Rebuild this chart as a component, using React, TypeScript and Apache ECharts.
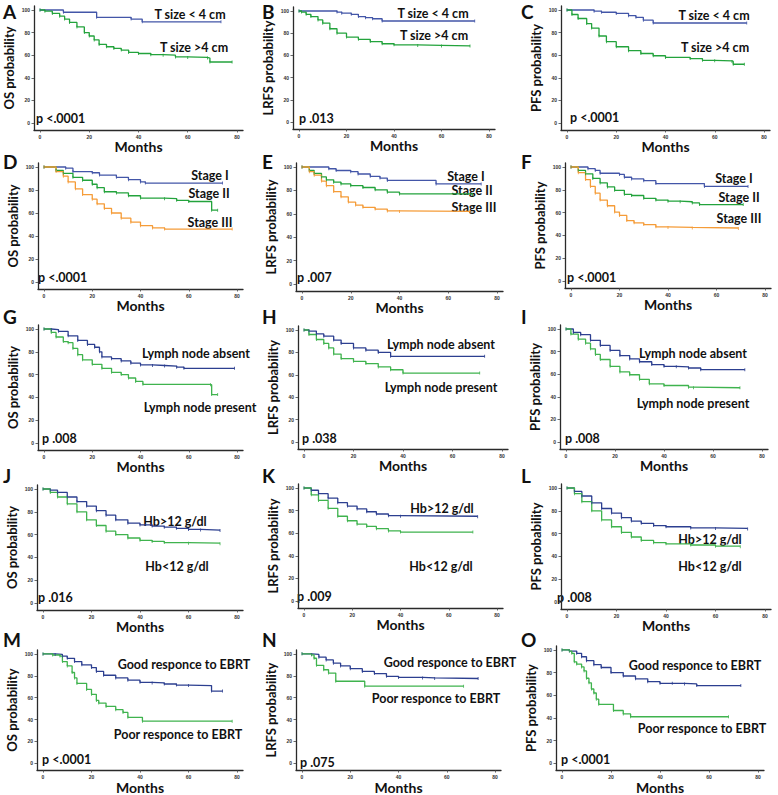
import React, { useEffect, useRef } from "react";
import * as echarts from "echarts";

// ---------- tick labels ----------
const xTicks = [0, 20, 40, 60, 80];
const yTicks = [0, 20, 40, 60, 80, 100];

// ---------- series data: [month, survival %] ----------
const A_small = [[0,100],[9.5,98],[23,93.5],[37,92],[41.5,89.5],[73.5,89.5]];
const A_large = [[0,100],[2,99],[5,97],[8,94.5],[10,92],[12,89],[15,85],[18,80],[20,77],[22,73.5],[24,69.5],[27,67.5],[30,66],[33,64.5],[36,62.5],[40,61.5],[45,60.5],[50,60],[55,58.5],[60,58],[68,57.5],[69,54],[78,54]];
const B_small = [[0,100],[16,99],[18,98],[22,97],[25,95],[28,94],[31,93],[35,91],[74,91]];
const B_large = [[0,100],[1,99],[3,97],[5,95],[8,92],[10,89],[13,84],[16,80],[20,76.5],[25,74.5],[30,72.5],[35,70.5],[40,69.5],[50,69],[60,68.5],[72,68.5]];
const C_small = [[0,100],[11,99],[14,98],[20,97],[25,95],[28,93.5],[31,91],[35,88.5],[73,88.5]];
const C_large = [[0,100],[2,96],[4.5,92.5],[8,88],[10,84],[13,77],[16,72],[20,67.5],[25,64],[30,61.5],[35,59.5],[40,58],[50,57],[55,55.5],[60,55],[67,54.5],[67.5,52],[72,52]];

const D_st1 = [[0,100],[9,99],[12,96],[20,95],[23,93],[30,91],[35,89],[40,87],[42,86],[74,86]];
const D_st2 = [[0,100],[5,97],[8,94.5],[12,91],[16,88.5],[20,85],[22,82],[25,78.5],[30,77.5],[35,75],[40,73],[50,72.5],[55,71],[60,70],[69.5,62.5],[72,62.5]];
const D_st3 = [[0,100],[5,96],[8,92],[10,87],[13,81],[16,76],[20,72],[22,68],[25,64],[28,60],[32,55.5],[36,52],[40,49],[45,47],[50,46],[78,46]];
const E_st1 = [[0,100],[11,98.5],[14,97],[20,96],[23,94],[28,92],[32,90.5],[35,88.5],[55,85.5],[73.5,85.5]];
const E_st2 = [[0,100],[3,97],[5,94.5],[8,91.5],[10,89],[13,87],[16,85.5],[20,84],[25,82.5],[30,80.5],[35,78.5],[40,77],[70,76.5]];
const E_st3 = [[0,100],[3,96],[5,93],[8,88],[10,84],[13,79],[16,74.5],[19,70],[22,67.5],[25,65.5],[30,64],[35,62.5],[40,62],[69,62]];
const F_st1 = [[0,100],[7,98.5],[10,97],[12,94.5],[20,93.5],[22,91],[25,89.5],[30,88],[35,85.5],[55,83],[73,83]];
const F_st2 = [[0,100],[3,97],[6,94],[9,90],[12,86],[15,82.5],[18,79.5],[22,76],[25,75],[30,72.5],[35,71],[40,70],[45,69.5],[50,68.5],[53,67],[71,67]];
const F_st3 = [[0,100],[3,95],[6,89],[8,83],[10,77],[12,71],[15,66],[18,60.5],[20,57.5],[23,53],[26,51],[30,49.5],[35,47.5],[40,47],[50,46.5],[69,46]];

const G_absent = [[0,100],[3,99.5],[6,98],[10,94],[14,90],[18,86.5],[21,84],[23,80],[24,75.5],[28,74],[32,72],[36,70],[40,68.5],[45,68],[50,67.5],[55,66.5],[58,65.5],[79,65.5]];
const G_present = [[0,100],[3,97],[5,93],[8,89],[10,88],[12,83],[14,77.5],[16,73],[20,69],[24,65.5],[28,62],[32,60],[35,57],[38,54],[41,51.5],[69,51],[69.5,42.5],[72,42.5]];
const H_absent = [[0,100],[2,99],[5,96.5],[8,94.5],[12,91],[15,88],[20,84],[25,82],[30,80],[35,76.5],[73,76.5]];
const H_present = [[0,100],[2,96],[5,91.5],[8,88],[10,84],[12,78.5],[15,74.5],[20,72],[25,70],[30,67],[35,64.5],[40,61.5],[71,61.5]];
const I_absent = [[0,100],[3,97],[6,95],[10,90],[14,85.5],[18,81],[22,76.5],[26,73.5],[30,71],[35,68.5],[40,67],[45,66.5],[50,65.5],[55,64],[73,64]];
const I_present = [[0,100],[2,95.5],[5,91],[8,87.5],[10,82.5],[12,77.5],[14,73],[18,67],[22,62],[26,59.5],[30,55.5],[34,51.5],[40,50],[50,48.5],[52,48],[71,48]];

const J_hbHigh = [[0,100],[3,99],[6,97],[10,93],[14,89],[18,85],[22,81],[26,77],[30,73],[35,70],[40,68.5],[45,67.5],[50,66.5],[55,65.5],[60,64.5],[65,64],[73,63.5]];
const J_hbLow = [[0,100],[3,97],[6,93],[10,87],[14,80],[18,73],[22,68],[26,63],[30,60],[35,57],[40,55],[45,54],[50,53],[60,52.5],[73,52]];
const K_hbHigh = [[0,100],[3,98],[6,95],[10,91],[14,87],[18,84],[22,81.5],[26,79],[30,77],[35,75.5],[40,75],[72,74.5]];
const K_hbLow = [[0,100],[3,94],[6,89],[10,82],[14,75],[18,71],[22,68],[26,66],[30,64],[35,62],[40,61],[70,61]];
const L_hbHigh = [[0,100],[3,97],[6,93],[10,87],[14,82],[18,78],[22,74],[26,71],[30,69],[35,67],[40,66],[50,65],[60,64.5],[73,64]];
const L_hbLow = [[0,100],[3,95],[6,88],[10,80],[14,72],[18,66],[22,61],[26,57],[30,54],[35,52],[40,51],[50,50],[60,49],[70,48.5]];

const M_good = [[0,100],[5,99.5],[8,98],[10,96],[13,93],[16,90],[20,87.5],[22,84],[25,80.5],[30,78],[35,76],[40,74],[45,73.5],[50,72.5],[55,71.5],[60,71],[69.5,66],[74,66]];
const M_poor = [[0,100],[4,99],[7,98],[8,93],[10,89],[12,83],[13,78],[14,73],[18,67.5],[20,63],[22,57.5],[23,55],[26,52],[30,49],[33,46.5],[35,42],[41,38.5],[78,38.5]];
const N_good = [[0,100],[4,99.5],[7,97],[10,94.5],[13,91.5],[16,89],[20,86.5],[25,84],[30,82],[35,79.5],[40,78.5],[50,78],[55,77.5],[73,77.5]];
const N_poor = [[0,100],[4,99],[5,96],[6,89.5],[9,85.5],[11,82.5],[14,75],[26,70.5],[67,70.5]];
const O_good = [[0,100],[3,99],[6,97],[8,94],[10,90.5],[13,87],[16,84.5],[20,80],[25,77],[30,74.5],[35,72],[40,70.5],[45,70.5],[50,70],[55,68.5],[73,68.5]];
const O_poor = [[0,100],[3,99],[4,97],[5,89.5],[6,87.5],[8,85],[9,81.5],[10,75],[11,71],[12,65.5],[13,62],[14,56.5],[15,52],[21,46.5],[25,43.5],[28,41],[68,41]];

// ---------- texts ----------
const pValues = ["p <.0001","p .013","p <.0001","p <.0001","p .007","p <.0001","p .008","p .038","p .008","p .016","p .009","p .008","p <.0001","p .075","p <.0001"];
const yNames = ["OS probability","LRFS probability","PFS probability"];
const panelLetters = ["A","B","C","D","E","F","G","H","I","J","K","L","M","N","O"];

const BLUE_LIGHT = "#4356a8";
const BLUE_DARK = "#2c3f90";
const GREEN = "#23a33c";
const GREEN_LIGHT = "#3fb34e";
const ORANGE = "#f59c38";

// layout: [x of month 0, x of month 80, y of 100%, y of 0%]
const boxes = [
  [40,237,10,123],[299,489,11,122],[567,764,10,123],
  [44,237,167,282],[302,497,167,284],[571,765,167,281],
  [44,237,329,443],[304,502,330,442],[566,762,329,442],
  [43,237,489,603],[304,497,488,601],[567,765,488,602],
  [43,237,654,766],[302,495,654,767],[562,758,650,764],
];
const letterPos = [
  [3,2],[262,2],[521,2],[3,152],[262,152],[521,152],[3,307],[262,307],[521,307],
  [3,466],[262,466],[521,466],[3,630],[262,630],[521,630],
];

const panelSeries = [
  [[A_small,BLUE_LIGHT],[A_large,GREEN]],
  [[B_small,BLUE_LIGHT],[B_large,GREEN]],
  [[C_small,BLUE_LIGHT],[C_large,GREEN]],
  [[D_st1,BLUE_LIGHT],[D_st2,GREEN],[D_st3,ORANGE]],
  [[E_st1,BLUE_LIGHT],[E_st2,GREEN],[E_st3,ORANGE]],
  [[F_st1,BLUE_LIGHT],[F_st2,GREEN],[F_st3,ORANGE]],
  [[G_absent,BLUE_DARK],[G_present,GREEN_LIGHT]],
  [[H_absent,BLUE_DARK],[H_present,GREEN_LIGHT]],
  [[I_absent,BLUE_DARK],[I_present,GREEN_LIGHT]],
  [[J_hbHigh,BLUE_DARK],[J_hbLow,GREEN_LIGHT]],
  [[K_hbHigh,BLUE_DARK],[K_hbLow,GREEN_LIGHT]],
  [[L_hbHigh,BLUE_DARK],[L_hbLow,GREEN_LIGHT]],
  [[M_good,BLUE_DARK],[M_poor,GREEN_LIGHT]],
  [[N_good,BLUE_DARK],[N_poor,GREEN_LIGHT]],
  [[O_good,BLUE_DARK],[O_poor,GREEN_LIGHT]],
];

// curve labels: [text, centerX, centerY]
const curveLabels: [string, number, number][][] = [
  [["T size < 4 cm",190,14],["T size >4 cm",194,47]],
  [["T size < 4 cm",433,13],["T size >4 cm",434,35]],
  [["T size < 4 cm",714,15],["T size >4 cm",715,47]],
  [["Stage I",210,175],["Stage II",209,193],["Stage III",210,222]],
  [["Stage I",466,176],["Stage II",472,190],["Stage III",474,207]],
  [["Stage I",734,178],["Stage II",739,197],["Stage III",739,218]],
  [["Lymph node absent",196,353],["Lymph node present",200,407]],
  [["Lymph node absent",441,344],["Lymph node present",441,387]],
  [["Lymph node absent",693,353],["Lymph node present",693,403]],
  [["Hb>12 g/dl",175,521],["Hb<12 g/dl",177,566]],
  [["Hb>12 g/dl",442,508],["Hb<12 g/dl",441,566]],
  [["Hb>12 g/dl",710,539],["Hb<12 g/dl",710,566]],
  [["Good responce to EBRT",184,664],["Poor responce to EBRT",178,734]],
  [["Good responce to EBRT",450,662],["Poor responce to EBRT",436,698]],
  [["Good responce to EBRT",695,665],["Poor responce to EBRT",702,728]],
];
const pPos = [
  [36,118],[299,118],[570,117],[38,277],[297,277],[567,277],[42,438],[302,438],[565,438],
  [38,597],[297,596],[557,597],[42,759],[300,762],[561,759],
];

const FONT = "Lato, 'Open Sans', sans-serif";

function buildOption() {
  const grid: any[] = [], xAxis: any[] = [], yAxis: any[] = [], series: any[] = [], graphic: any[] = [];
  boxes.forEach((b, i) => {
    const [x0, x80, y100, y0] = b;
    const sx = (x80 - x0) / 80;
    const sy = (y0 - y100) / 100;
    const gl = x0 - 6, gr = x80 + 6, gt = y100 - 4, gb = y0 + 7;
    grid.push({ left: gl, top: gt, width: gr - gl, height: gb - gt, containLabel: false });
    const axisLine = { show: true, onZero: false, lineStyle: { color: "#2a2a2a", width: 1.3 } };
    const tickLabel = { fontSize: 5, color: "#333", fontWeight: "bold", fontFamily: "Liberation Sans, Arial, sans-serif" };
    xAxis.push({
      gridIndex: i, type: "value", min: -6 / sx, max: 80 + 6 / sx,
      axisLine,
      axisTick: { show: true, customValues: xTicks, length: 2.5, lineStyle: { color: "#444", width: 0.8 } },
      axisLabel: { show: true, customValues: xTicks, margin: 4, ...tickLabel },
      splitLine: { show: false },
      name: "Months", nameLocation: "middle", nameGap: 9,
      nameTextStyle: { fontFamily: FONT, fontWeight: "bold", fontSize: 14, color: "#111", verticalAlign: "top" },
    });
    yAxis.push({
      gridIndex: i, type: "value", min: -7 / sy, max: 100 + 4 / sy,
      axisLine,
      axisTick: { show: true, customValues: yTicks, length: 2.5, lineStyle: { color: "#444", width: 0.8 } },
      axisLabel: { show: true, customValues: yTicks, margin: 4, ...tickLabel },
      splitLine: { show: false },
      name: yNames[i % 3], nameLocation: "middle", nameGap: 19, nameRotate: 90,
      nameTextStyle: { fontFamily: FONT, fontWeight: "bold", fontSize: 13, color: "#111" },
    });
    panelSeries[i].forEach(([data, color]: any) => {
      series.push({
        type: "line", xAxisIndex: i, yAxisIndex: i, data, step: "end",
        showSymbol: true, symbol: "rect", symbolSize: [0.8, 3], silent: true,
        lineStyle: { color, width: 1.3 }, itemStyle: { color },
      });
    });
    graphic.push({
      type: "text", left: letterPos[i][0], top: letterPos[i][1],
      style: { text: panelLetters[i], font: `bold 19px ${FONT}`, fill: "#111" },
    });
    curveLabels[i].forEach(([t, cx, cy]) => {
      graphic.push({
        type: "text", x: cx, y: cy,
        style: { text: t, font: `bold 12.5px ${FONT}`, fill: "#111", align: "center", verticalAlign: "middle" },
      });
    });
    graphic.push({
      type: "text", x: pPos[i][0], y: pPos[i][1],
      style: { text: pValues[i], font: `bold 12.5px ${FONT}`, fill: "#111", align: "left", verticalAlign: "middle" },
    });
  });
  return { animation: false, backgroundColor: "#ffffff", grid, xAxis, yAxis, series, graphic };
}

export default function App() {
  const ref = useRef<HTMLDivElement>(null);
  useEffect(() => {
    document.body.style.margin = "0";
    const chart = echarts.init(ref.current!, null, { renderer: "svg" });
    chart.setOption(buildOption() as any);
    return () => chart.dispose();
  }, []);
  return <div ref={ref} style={{ width: 778, height: 795 }} />;
}
